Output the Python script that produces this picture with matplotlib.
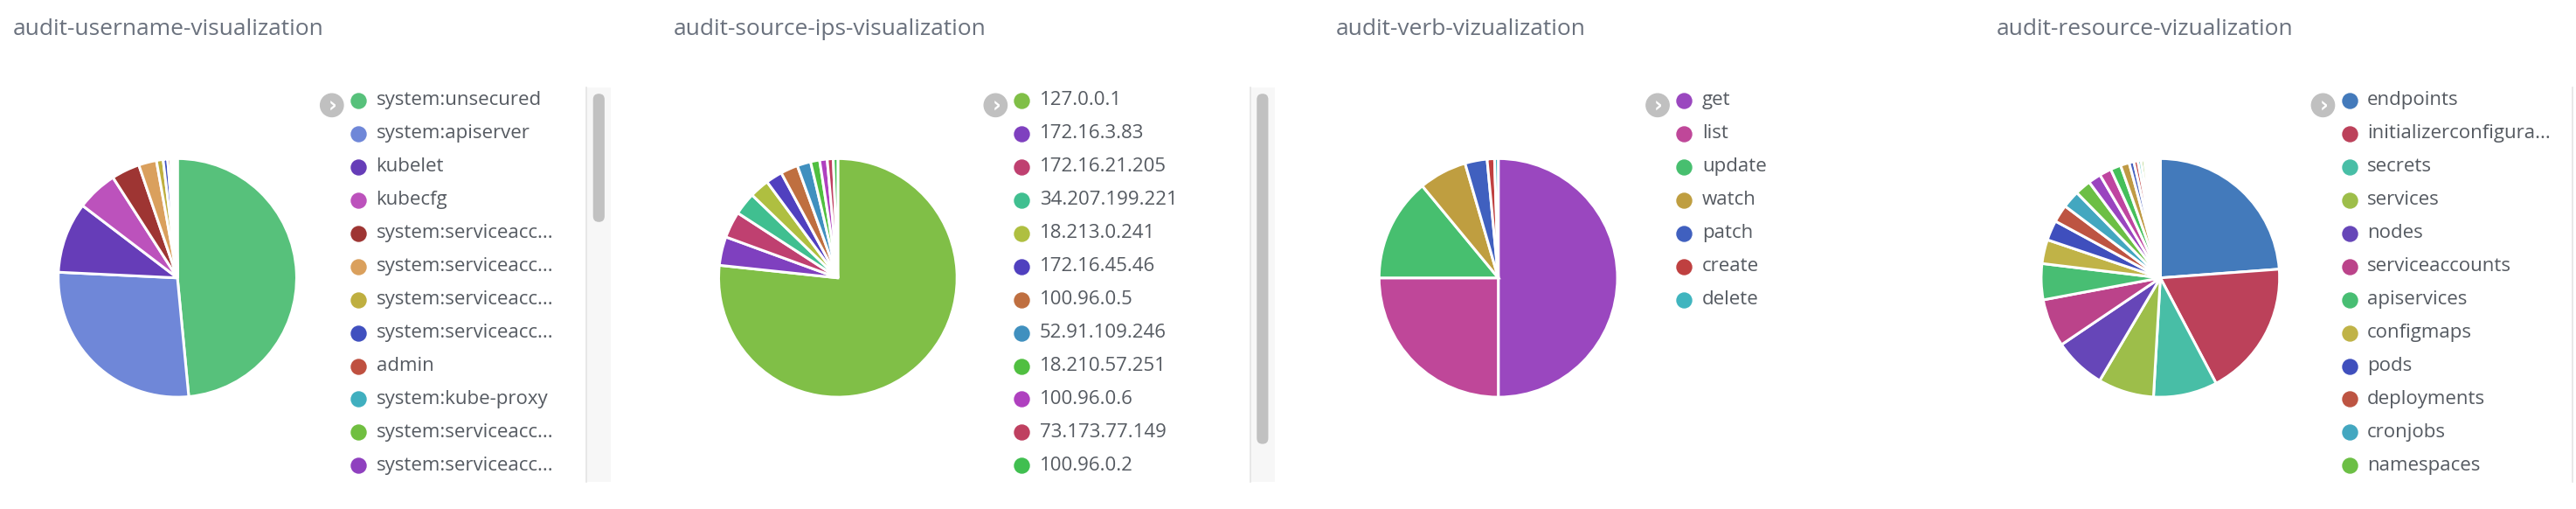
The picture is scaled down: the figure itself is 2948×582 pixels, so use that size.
import matplotlib
matplotlib.use("Agg")
import matplotlib.pyplot as plt
from matplotlib.patches import Circle, FancyBboxPatch

plt.rcParams['font.family'] = ['Open Sans', 'DejaVu Sans']

# ---------------- data ----------------
user_labels = ["system:unsecured", "system:apiserver", "kubelet", "kubecfg",
               "system:serviceacc...", "system:serviceacc...", "system:serviceacc...",
               "system:serviceacc...", "admin", "system:kube-proxy",
               "system:serviceacc...", "system:serviceacc..."]
user_values = [48, 27, 9.5, 5.5, 3.8, 2.4, 0.9, 0.6, 0.4, 0.3, 0.3, 0.3]
user_colors = ["#57c17b", "#6f87d8", "#663db8", "#bc52bc", "#9e3533", "#daa05d",
               "#bfaf40", "#4050bf", "#bf5040", "#40afbf", "#70bf40", "#8f40bf"]

ip_labels = ["127.0.0.1", "172.16.3.83", "172.16.21.205", "34.207.199.221",
             "18.213.0.241", "172.16.45.46", "100.96.0.5", "52.91.109.246",
             "18.210.57.251", "100.96.0.6", "73.173.77.149", "100.96.0.2"]
ip_values = [75, 3.8, 3.5, 3.0, 2.6, 2.2, 2.3, 1.8, 1.2, 1.0, 0.8, 0.6]
ip_colors = ["#80bf47", "#7f40bf", "#bf4070", "#40bf90", "#afbf40", "#5040bf",
             "#bf6f40", "#4090bf", "#50bf40", "#af40bf", "#bf4060", "#40bf50"]

verb_labels = ["get", "list", "update", "watch", "patch", "create", "delete"]
verb_values = [50, 25, 14, 6.5, 3, 1, 0.5]
verb_colors = ["#9a47bf", "#bf4799", "#47bf6f", "#bf9e40", "#4060bf", "#bf4040", "#40b5bf"]

res_labels = ["endpoints", "initializerconfigura...", "secrets", "services", "nodes",
              "serviceaccounts", "apiservices", "configmaps", "pods", "deployments",
              "cronjobs", "namespaces"]
res_values = [22, 17, 8, 7, 6.5, 6, 4.5, 3, 2.5, 2.2, 2.2, 2.0]
res_colors = ["#437abb", "#bc415a", "#48bea6", "#9dbe4a", "#6646b8", "#bb438a",
              "#48be73", "#c0b347", "#3f4fbd", "#bd5442", "#43a7c0", "#6cbf45"]
res_extra_values = [1.6, 1.5, 1.3, 1.1, 0.6, 0.5, 0.4, 0.4, 0.3, 0.3, 0.3, 0.3, 0.2, 0.2, 0.2, 0.2]
res_extra_colors = ["#9a45bf", "#bf45a0", "#45bf5a", "#bf9a45", "#4560bf", "#bf4545",
                    "#45bfbf", "#8fbf45", "#7045bf", "#bf4575", "#45bf85", "#bfb045",
                    "#4585bf", "#bf6a45", "#5ebf45", "#b045bf"]

titles = ["audit-username-visualization", "audit-source-ips-visualization",
          "audit-verb-vizualization", "audit-resource-vizualization"]

# ---------------- layout (in 1568-wide view units) ----------------
W, H = 1568.0, 582 / (2948 / 1568.0)
fig = plt.figure(figsize=(29.48, 5.82), dpi=100)
ov = fig.add_axes([0, 0, 1, 1])
ov.set_xlim(0, W); ov.set_ylim(H, 0); ov.axis('off')

panels = [
    dict(x0=0, cx=108, labels=user_labels, values=user_values, colors=user_colors,
         legx=218, scroll=(357, 57, 135)),
    dict(x0=402, cx=510, labels=ip_labels, values=ip_values, colors=ip_colors,
         legx=622, scroll=(761, 57, 270)),
    dict(x0=805, cx=912, labels=verb_labels, values=verb_values, colors=verb_colors,
         legx=1025, scroll=None),
    dict(x0=1207, cx=1315, labels=res_labels, values=res_values + res_extra_values,
         colors=res_colors + res_extra_colors, legx=1430, scroll=None),
]

r = 74
cy = 169
for p, t in zip(panels, titles):
    ov.text(p['x0'] + 8, 18, t, fontsize=19, color="#6a717d", va='center', ha='left')
    ax = fig.add_axes([(p['cx'] - r) / W, 1 - (cy + r) / H, 2 * r / W, 2 * r / H])
    ax.pie(p['values'], colors=p['colors'], startangle=90, counterclock=False,
           wedgeprops=dict(edgecolor='white', linewidth=2.2), normalize=True)
    ax.set_xlim(-1.02, 1.02); ax.set_ylim(-1.02, 1.02); ax.set_aspect('auto')
    # chevron
    chx = p['legx'] - 16
    ov.add_patch(Circle((chx, 64), 7, color="#c0c0c0"))
    ov.text(chx + 0.5, 64.5, "›", color="white", fontsize=17, fontweight='bold',
            ha='center', va='center', family='DejaVu Sans')
    for i, lab in enumerate(p['labels']):
        y = 61 + 20.2 * i
        ov.scatter([p['legx']], [y], s=150, color=p['colors'][i], zorder=3)
        ov.text(p['legx'] + 11, y, lab, fontsize=16, color="#555a61", va='center', ha='left')
    if p['scroll']:
        sx, ty0, ty1 = p['scroll']
        ov.add_patch(FancyBboxPatch((sx, 53), 15, 240, boxstyle="square,pad=0",
                                    facecolor="#f7f7f7", edgecolor="none"))
        ov.plot([sx, sx], [53, 293], color="#e4e4e4", lw=1.2)
        ov.add_patch(FancyBboxPatch((sx + 4, ty0), 7, ty1 - ty0,
                                    boxstyle="round,pad=0,rounding_size=3.5",
                                    facecolor="#c1c1c1", edgecolor="none"))

ov.plot([W - 2, W - 2], [53, 293], color="#e4e4e4", lw=1.2)

fig.savefig("out.png", dpi=100)
